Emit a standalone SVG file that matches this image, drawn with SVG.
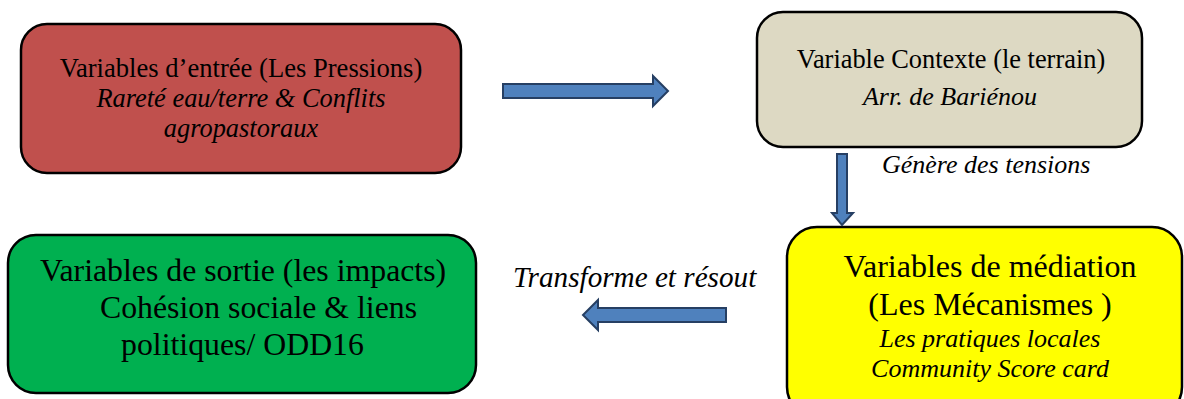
<svg xmlns="http://www.w3.org/2000/svg" width="1184" height="399" viewBox="0 0 1184 399">
<style>
.box{stroke:#000;stroke-width:2.5}
text{font-family:'Liberation Serif','DejaVu Serif','Times New Roman',serif;fill:#000}
.i{font-style:italic}
.arrow{fill:#4F81BD;stroke:#263F63;stroke-width:2;stroke-linejoin:miter}
</style>
<rect width="1184" height="399" fill="#fff"/>
<g id="node-entree">
<rect class="box" x="21" y="24" width="440" height="149" rx="26" fill="#C0504D"/>
<text x="241" y="77" font-size="26.6" text-anchor="middle">Variables d’entrée (Les Pressions)</text>
<text class="i" x="241" y="107" font-size="26.4" text-anchor="middle">Rareté eau/terre &amp; Conflits</text>
<text class="i" x="241" y="137" font-size="26.4" text-anchor="middle">agropastoraux</text>
</g>
<g id="node-contexte">
<rect class="box" x="757" y="12" width="385" height="135" rx="26" fill="#DDD9C3"/>
<text x="951" y="68" font-size="26.4" text-anchor="middle">Variable Contexte (le terrain)</text>
<text class="i" x="950" y="105" font-size="26" text-anchor="middle">Arr. de Bariénou</text>
</g>
<g id="node-mediation">
<rect class="box" x="787" y="227" width="395" height="190" rx="30" fill="#FFFF00"/>
<text x="990" y="277" font-size="32" text-anchor="middle">Variables de médiation</text>
<text x="990" y="315" font-size="32" text-anchor="middle">(Les Mécanismes )</text>
<text class="i" x="990" y="347" font-size="26" text-anchor="middle">Les pratiques locales</text>
<text class="i" x="990" y="377" font-size="26" text-anchor="middle">Community Score card</text>
</g>
<g id="node-sortie">
<rect class="box" x="8" y="235" width="468" height="158" rx="28" fill="#00B050"/>
<text x="40" y="281" font-size="31.8">Variables de sortie (les impacts)</text>
<text x="100" y="318" font-size="31.8">Cohésion sociale &amp; liens</text>
<text x="121" y="355" font-size="31.8">politiques/ ODD16</text>
</g>
<g id="connectors">
<polygon class="arrow" points="503,84 653,84 653,76 668,91 653,106 653,98 503,98"/>
<polygon class="arrow" points="837,154 847,154 847,213 853,213 842,225 832,213 837,213"/>
<polygon class="arrow" points="726,308 598,308 598,300 583,315 598,330 598,322 726,322"/>
<text class="i" x="882" y="173" font-size="26">Génère des tensions</text>
<text class="i" x="513" y="287" font-size="29.2">Transforme et résout</text>
</g>
</svg>
